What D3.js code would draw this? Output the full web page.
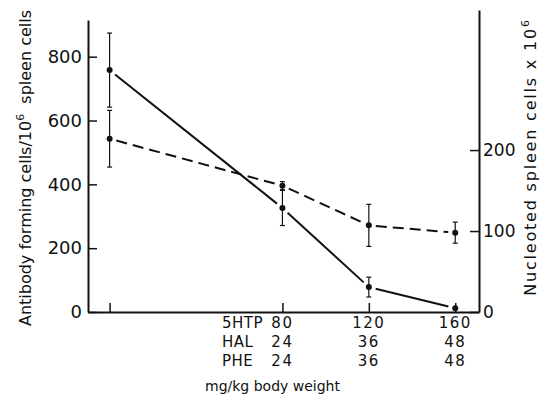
<!DOCTYPE html>
<html>
<head>
<meta charset="utf-8">
<script src="https://cdn.jsdelivr.net/npm/d3@7"></script>
<style>
  body { margin: 0; background: #fff; }
  svg text { font-family: "DejaVu Sans", sans-serif; fill: #111; }
</style>
</head>
<body>
<div id="grafico"></div>
<script>
// doses (5HTP mg/kg), 0 = control
const doses = [0, 80, 120, 160];
// antibody forming cells / 10^6 spleen cells (left axis, solid line)
const antibody = [758, 326, 78, 12];
const antibodyErr = [116, 55, 31, 0];
// nucleated spleen cells x 10^6 (right axis, dashed line)
const nucleated = [214, 156, 107, 98];
const nucleatedErr = [35, 5, 26, 13];

const leftTicks = [0, 200, 400, 600, 800];
const rightTicks = [0, 100, 200];
const doseRows = [
  { nome: "5HTP", valores: [80, 120, 160] },
  { nome: "HAL", valores: [24, 36, 48] },
  { nome: "PHE", valores: [24, 36, 48] }
];

const W = 546, H = 403;
const svg = d3.select("#grafico").append("svg")
  .attr("width", W)
  .attr("height", H);

// escalas
const x = d3.scaleLinear().domain([-10, 171]).range([88, 479]);
const yL = d3.scaleLinear().domain([0, 915]).range([312, 20]);
const yR = d3.scaleLinear().domain([0, 373]).range([312, 10]);

// eixos
const eixoL = svg.append("g")
  .attr("transform", "translate(" + x.range()[0] + ",0)")
  .call(d3.axisLeft(yL).tickValues(leftTicks).tickSize(-9).tickPadding(6).tickSizeOuter(0));
eixoL.selectAll("text").style("font-size", "18px");

const eixoR = svg.append("g")
  .attr("transform", "translate(" + x.range()[1] + ",0)")
  .call(d3.axisRight(yR).tickValues(rightTicks).tickSize(-9).tickPadding(4).tickSizeOuter(0));
eixoR.selectAll("text").style("font-size", "17px");

const eixoB = svg.append("g")
  .attr("transform", "translate(0," + yL(0) + ")")
  .call(d3.axisBottom(x).tickValues(doses).tickSize(-9).tickFormat("").tickSizeOuter(0));

svg.selectAll(".domain").attr("stroke", "#111").attr("stroke-width", 2);
svg.selectAll(".tick line").attr("stroke", "#111").attr("stroke-width", 1.5);
svg.selectAll(".tick text").attr("font-family", null).style("fill", "#111");

// linhas com pequenos intervalos junto aos pontos
const gap = 7;
function segmentos(ys, yScale) {
  const pts = doses.map((d, i) => [x(d), yScale(ys[i])]);
  const segs = [];
  for (let i = 0; i < pts.length - 1; i++) {
    const [x1, y1] = pts[i], [x2, y2] = pts[i + 1];
    const len = Math.hypot(x2 - x1, y2 - y1);
    const ux = (x2 - x1) / len, uy = (y2 - y1) / len;
    segs.push([x1 + ux * gap, y1 + uy * gap, x2 - ux * gap, y2 - uy * gap]);
  }
  return segs;
}

function desenhaSerie(ys, errs, yScale, dash) {
  const g = svg.append("g");
  g.selectAll("line.seg")
    .data(segmentos(ys, yScale))
    .enter().append("line")
    .attr("class", "seg")
    .attr("x1", s => s[0]).attr("y1", s => s[1])
    .attr("x2", s => s[2]).attr("y2", s => s[3])
    .attr("stroke", "#111")
    .attr("stroke-width", 2)
    .attr("stroke-dasharray", dash);

  const barras = g.selectAll("g.err")
    .data(doses.map((d, i) => ({ d: d, v: ys[i], e: errs[i] })).filter(p => p.e > 0))
    .enter().append("g").attr("class", "err");
  barras.append("line")
    .attr("x1", p => x(p.d)).attr("x2", p => x(p.d))
    .attr("y1", p => yScale(p.v + p.e)).attr("y2", p => yScale(p.v - p.e))
    .attr("stroke", "#111").attr("stroke-width", 1.2);
  [1, -1].forEach(k => {
    barras.append("line")
      .attr("x1", p => x(p.d) - 2.5).attr("x2", p => x(p.d) + 2.5)
      .attr("y1", p => yScale(p.v + k * p.e)).attr("y2", p => yScale(p.v + k * p.e))
      .attr("stroke", "#111").attr("stroke-width", 1.2);
  });

  g.selectAll("circle")
    .data(doses)
    .enter().append("circle")
    .attr("cx", d => x(d))
    .attr("cy", (d, i) => yScale(ys[i]))
    .attr("r", 3)
    .attr("fill", "#111");
}

desenhaSerie(antibody, antibodyErr, yL, null);
desenhaSerie(nucleated, nucleatedErr, yR, "11,6");

// doses por baixo do eixo
const linhasY = [328, 347, 366];
doseRows.forEach((row, j) => {
  svg.append("text")
    .attr("x", 222)
    .attr("y", linhasY[j])
    .style("font-size", "15px")
    .style("letter-spacing", "0.5px")
    .text(row.nome);
  svg.selectAll(null)
    .data(row.valores)
    .enter().append("text")
    .attr("x", (v, i) => x(doses[i + 1]))
    .attr("y", linhasY[j])
    .attr("text-anchor", "middle")
    .style("font-size", "15px")
    .style("letter-spacing", "1.5px")
    .text(v => v);
});

svg.append("text")
  .attr("x", 205)
  .attr("y", 391)
  .style("font-size", "14px")
  .text("mg/kg body weight");

// titulos dos eixos
const tL = svg.append("text")
  .attr("transform", "translate(31,168) rotate(-90)")
  .attr("text-anchor", "middle")
  .style("font-size", "16px");
tL.append("tspan").text("Antibody forming cells/10");
tL.append("tspan").attr("dy", -7).style("font-size", "11px").text("6");
tL.append("tspan").attr("dy", 7).text("\u00a0 spleen cells");

const tR = svg.append("text")
  .attr("transform", "translate(536,157) rotate(-90)")
  .attr("text-anchor", "middle")
  .style("font-size", "16px")
  .style("letter-spacing", "1.8px");
tR.append("tspan").text("Nucleoted spleen cells x 10");
tR.append("tspan").attr("dy", -7).style("font-size", "11px").text("6");
</script>
</body>
</html>
